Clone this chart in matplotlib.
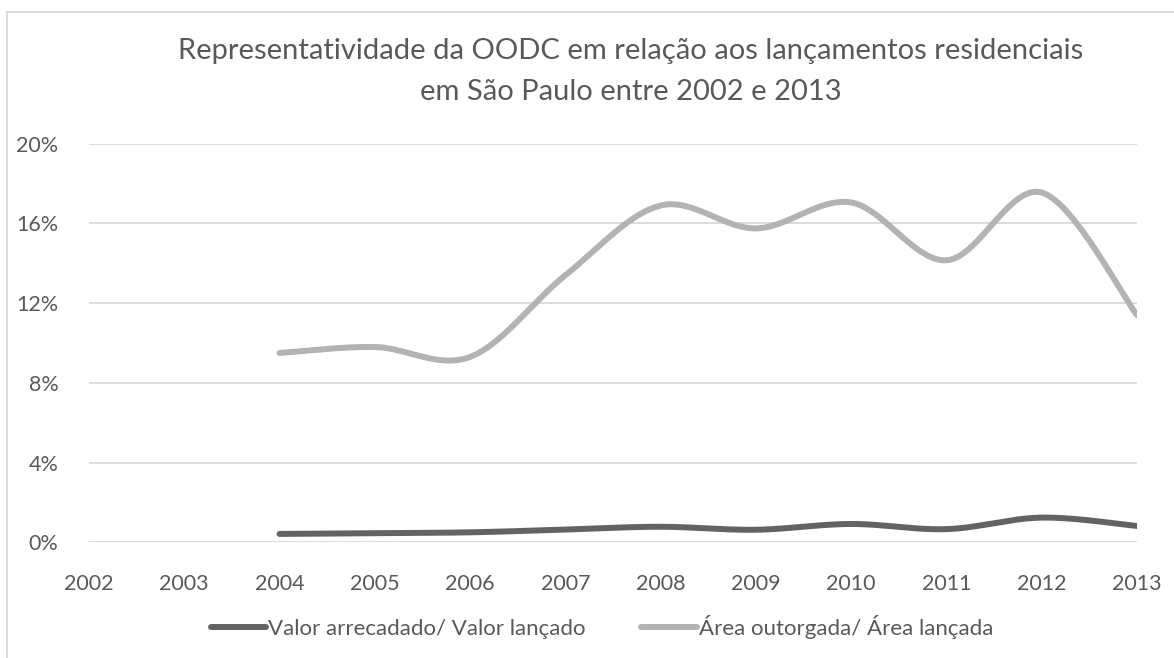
"""
Representatividade da OODC - recreated Excel-style smoothed line chart.
"""

import numpy as np
import matplotlib
matplotlib.use("Agg")
import matplotlib.pyplot as plt
from matplotlib.lines import Line2D
from matplotlib.ticker import PercentFormatter

plt.rcParams["font.family"] = ["Lato", "DejaVu Sans"]

years = [2002, 2003, 2004, 2005, 2006, 2007, 2008, 2009, 2010, 2011, 2012, 2013]
valor_pct = [np.nan, np.nan, 0.42, 0.46, 0.50, 0.64, 0.78, 0.63, 0.92, 0.66, 1.24, 0.82]
area_pct = [np.nan, np.nan, 9.5, 9.8, 9.3, 13.4, 16.9, 15.75, 17.05, 14.15, 17.55, 11.4]
series_names = ["Valor arrecadado/ Valor lançado", "Área outorgada/ Área lançada"]
title_lines = ["Representatividade da OODC em relação aos lançamentos residenciais",
               "em São Paulo entre 2002 e 2013"]

TEXT = "#595959"
GRID = "#D9D9D9"
DARK = "#636363"
LIGHT = "#B3B3B3"


def excel_smooth(x, y, steps=40):
    """Bezier smoothing like Excel's 'smoothed line' (Catmull-Rom, tension 1/6)."""
    x = np.asarray(x, float)
    y = np.asarray(y, float)
    ok = ~np.isnan(y)
    x, y = x[ok], y[ok]
    pts = np.column_stack([x, y])
    n = len(pts)
    out = []
    t = np.linspace(0, 1, steps)[:, None]
    for i in range(n - 1):
        p0 = pts[i - 1] if i > 0 else pts[i]
        p1 = pts[i]
        p2 = pts[i + 1]
        p3 = pts[i + 2] if i + 2 < n else pts[i + 1]
        c1 = p1 + (p2 - p0) / 6
        c2 = p2 - (p3 - p1) / 6
        seg = ((1 - t) ** 3) * p1 + 3 * ((1 - t) ** 2) * t * c1 \
            + 3 * (1 - t) * t ** 2 * c2 + t ** 3 * p2
        out.append(seg if i == 0 else seg[1:])
    curve = np.vstack(out)
    return curve[:, 0], curve[:, 1]


fig = plt.figure(figsize=(11.74, 6.58), dpi=100)
W, H = 1174, 658
ax = fig.add_axes([89 / W, 1 - 542.3 / H, 1048 / W, 398.6 / H])

for vals, name, color in zip([valor_pct, area_pct], series_names, [DARK, LIGHT]):
    sx, sy = excel_smooth(years, vals)
    ax.plot(sx, sy, color=color, lw=4.3, solid_capstyle="round", label=name)

ax.set_xlim(years[0], years[-1])
ax.set_ylim(0, 20)
ax.set_xticks(years)
ax.set_yticks(np.arange(0, 21, 4))
ax.yaxis.set_major_formatter(PercentFormatter(100, decimals=0))
ax.tick_params(length=0, labelsize=15.5, colors=TEXT)
ax.tick_params(axis="y", pad=22)
ax.tick_params(axis="x", pad=23)
ax.grid(axis="y", color=GRID, lw=1.3)
ax.set_axisbelow(True)
for s in ax.spines.values():
    s.set_visible(False)

# title, two centred lines
fig.text(630.5 / W, 1 - 59.3 / H, title_lines[0], ha="center", va="baseline",
         fontsize=21, color=TEXT)
fig.text(630.5 / W, 1 - 100 / H, title_lines[1], ha="center", va="baseline",
         fontsize=21, color=TEXT)

fig.legend(loc="center", bbox_to_anchor=(602 / W, 1 - 626.7 / H), ncol=2,
           frameon=False, fontsize=16, labelcolor=TEXT, handlelength=2.5,
           handletextpad=0.1, columnspacing=2.5)

# chart area border (left and top edges visible)
fig.add_artist(Line2D([7 / W, 7 / W], [0, 1 - 12 / H], color=GRID, lw=1.3))
fig.add_artist(Line2D([7 / W, 1], [1 - 12 / H, 1 - 12 / H], color=GRID, lw=1.3))

fig.savefig("out.png", dpi=100)
